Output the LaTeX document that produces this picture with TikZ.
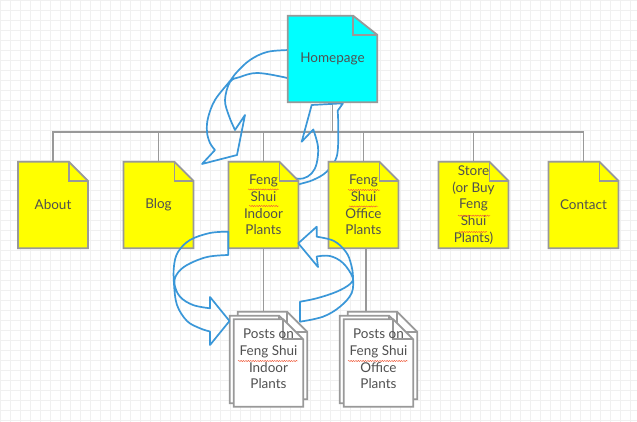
\documentclass[tikz,border=0pt]{standalone}
\usepackage{fontspec}
\setmainfont{Lato}
\usetikzlibrary{backgrounds,decorations.pathmorphing}
\definecolor{bordergray}{HTML}{999999}
\definecolor{arrowblue}{HTML}{3A97D8}
\definecolor{txtgray}{HTML}{505050}
\definecolor{docyellow}{HTML}{FFFF00}
\definecolor{doccyan}{HTML}{00FFFF}
\definecolor{gridgray}{HTML}{F0F0F0}
\definecolor{spellred}{HTML}{F05A3A}
\newcommand\docshape[4]{%
  \filldraw[docline,fill=#2] (#1.north west) -- ([xshift=-#3]#1.north east) -- ([yshift=-#4]#1.north east) -- (#1.south east) -- (#1.south west) -- cycle;
  \draw[docline] ([xshift=-#3]#1.north east) -- ([xshift=-#3,yshift=-#4]#1.north east) -- ([yshift=-#4]#1.north east);
}
\begin{document}
\begin{tikzpicture}[x=1pt,y=-1pt,
  every node/.style={font=\fontsize{13.5}{16.8}\selectfont, text=txtgray, align=center, inner sep=0pt},
  box/.style={minimum width=69.5pt, minimum height=86pt},
  page/.style={minimum width=69pt, minimum height=87pt},
  docline/.style={draw=bordergray, line width=1.8pt, line join=miter},
  conn/.style={draw=bordergray, line width=1.8pt},
  arr/.style={draw=arrowblue, line width=1.7pt, line join=round},
  spell/.style={draw=spellred, line width=0.45pt, decorate, decoration={snake, amplitude=0.6pt, segment length=2.4pt}}]
\useasboundingbox (0,0) rectangle (637,422);

% nodes
\node[minimum width=89pt, minimum height=86pt] (home) at (332.5,59) {Homepage};
\node[box] (about)   at (53,205)    {About};
\node[box] (blog)    at (158.5,205) {Blog};
\node[box] (indoor)  at (263.5,205) {Feng\\Shui\\Indoor\\Plants};
\node[box] (office)  at (363.5,205) {Feng\\Shui\\Office\\Plants};
\node[box] (store)   at (473.5,205) {Store\\(or Buy\\Feng\\Shui\\Plants)};
\node[box] (contact) at (583.5,205) {Contact};

\node[page] (pi1) at (272.5,355.5) {};
\node[page] (pi2) at (264.5,359.5) {};
\node[page] (pi3) at (268.5,363) {};
\node[page] (po1) at (382.5,355.5) {};
\node[page] (po2) at (374.5,359.5) {};
\node[page] (po3) at (378.5,363) {};
\coordinate (bus) at (0,132);

\begin{pgfonlayer}{background}
  \fill[white] (0,0) rectangle (637,422);
  \foreach \i in {0,10,...,630} \draw[gridgray, line width=0.8pt] (\i,0) -- (\i,422);
  \foreach \j in {0,10,...,420} \draw[gridgray, line width=0.8pt] (0,\j) -- (637,\j);
  % connectors
  \draw[conn] (home.south) -- (home.south |- bus) -| (about.north);
  \draw[conn] (home.south |- bus) -| (blog.north);
  \draw[conn] (home.south |- bus) -| (indoor.north);
  \draw[conn] (home.south |- bus) -| (office.north);
  \draw[conn] (home.south |- bus) -| (store.north);
  \draw[conn] (home.south |- bus) -| (contact.north);
  \draw[conn] (indoor.south) -- (indoor.south |- pi1.north);
  \draw[conn] ([xshift=2.5pt]office.south) -- ([xshift=2.5pt]office.south |- po1.north);
  % upper curved arrows (behind the documents)
  \draw[arr] plot[smooth,tension=0.6] coordinates {(292,50) (288,50) (267,52) (250,60) (237,72) (230,81) (215,100) (208,118) (207,132) (210,143) (215,150)}
     -- (202,164) -- (237,155) -- (245,115)
     -- plot[smooth,tension=0.6] coordinates {(235,130) (229,116) (225,100) (230,82) (240,77) (257,73) (283,77) (292,80)};
  \draw[arr] plot[smooth,tension=0.6] coordinates {(292,187) (300,184) (313,180) (326.7,171.7) (336.7,156.7) (338.3,130) (337.7,110.7)}
     -- (343,103.3) -- (311.7,105) -- (301.7,141.7)
     -- plot[smooth,tension=0.6] coordinates {(313.3,129.5) (318,146.7) (316.7,163.3) (311.7,173.3) (303,178.5) (292,178)};
  % documents
  \docshape{home}{doccyan}{24pt}{19pt}
  \docshape{about}{docyellow}{19pt}{19pt}
  \docshape{blog}{docyellow}{19pt}{19pt}
  \docshape{indoor}{docyellow}{19pt}{19pt}
  \docshape{office}{docyellow}{19pt}{19pt}
  \docshape{store}{docyellow}{19pt}{19pt}
  \docshape{contact}{docyellow}{19pt}{19pt}
  \docshape{pi1}{white}{20pt}{20pt}
  \docshape{pi2}{white}{20pt}{20pt}
  \docshape{pi3}{white}{20pt}{20pt}
  \docshape{po1}{white}{20pt}{20pt}
  \docshape{po2}{white}{20pt}{20pt}
  \docshape{po3}{white}{20pt}{20pt}
\end{pgfonlayer}

\node (pitxt) at (268.5,359) {Posts on\\Feng Shui\\Indoor\\Plants};
\node (potxt) at (378.5,359) {Posts on\\Feng Shui\\Office\\Plants};

% lower curved arrows
\draw[arr] plot[smooth,tension=0.6] coordinates {(228.3,231.7) (210,233) (190,240) (178,252) (174,266) (174,284) (177,305) (187,321) (200,328.3) (210,331.5)}
   -- (210,345) -- (229.5,321) -- (210,297)
   -- plot[smooth,tension=0.6] coordinates {(210,308.3) (193,305) (180,296.7) (174.5,284) (177,274) (187,265) (207,257) (228.3,255)} -- cycle;
\draw[arr] plot[smooth,tension=0.6] coordinates {(300,321.7) (323,316.7) (340,306.7) (351.7,293) (353,277) (351,264) (346,252) (334,241) (316.7,236.7)}
   -- (316.7,226.7) -- (298.3,243.3) -- (318,267)
   -- plot[smooth,tension=0.6] coordinates {(316.7,256.5) (330,256) (343,263) (352.5,277) (350,284) (336.7,291.7) (316.7,298.3) (300,301.7)} -- cycle;

% spell-check underlines
\draw[spell] (248,189.5) -- (279,189.5);
\draw[spell] (249,206) -- (279,206);
\draw[spell] (348,190) -- (380,190);
\draw[spell] (349,206.5) -- (378,206.5);
\draw[spell] (458,215.7) -- (490,215.7);
\draw[spell] (459,232) -- (487,232);
\draw[spell] (238,361) -- (298,361);
\draw[spell] (348,361) -- (408,361);
\end{tikzpicture}
\end{document}
